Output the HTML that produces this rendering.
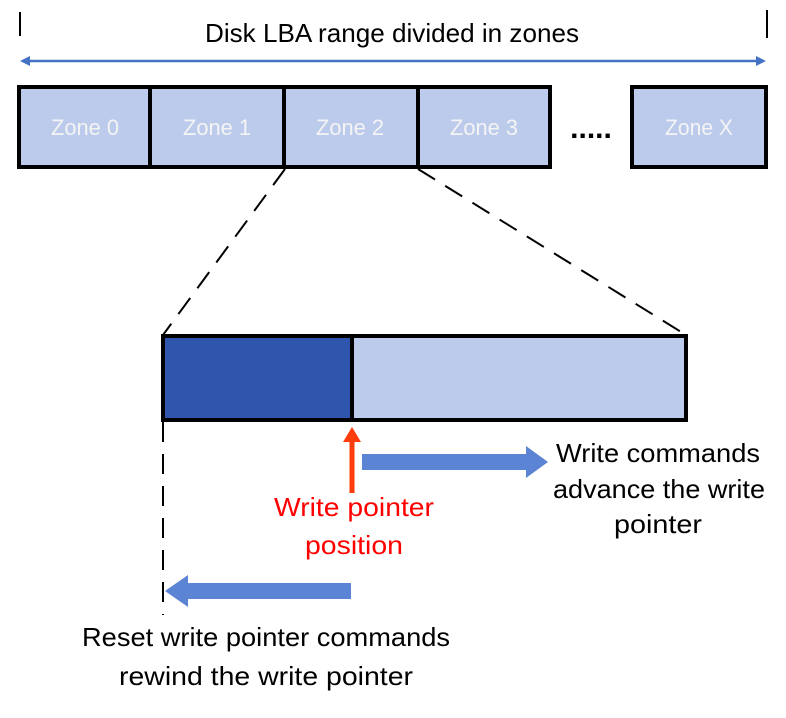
<!DOCTYPE html>
<html><head><style>
body{margin:0;width:786px;height:718px;background:#fff;overflow:hidden}
svg{display:block}
text{font-family:"Liberation Sans",sans-serif}
</style></head><body>
<svg width="786" height="718" viewBox="0 0 786 718">
<line x1="20" y1="12" x2="20" y2="36" stroke="#000" stroke-width="2"/>
<line x1="767" y1="10" x2="767" y2="38" stroke="#000" stroke-width="2"/>
<text x="392" y="42" font-size="26" text-anchor="middle" fill="#000" textLength="374" lengthAdjust="spacingAndGlyphs">Disk LBA range divided in zones</text>
<line x1="28" y1="61" x2="758" y2="61" stroke="#4472c4" stroke-width="2.5"/>
<polygon points="20,61 30,56 30,66" fill="#4472c4"/>
<polygon points="766,61 756,56 756,66" fill="#4472c4"/>
<g stroke="#000" stroke-width="4" fill="#bccbeb">
<rect x="19" y="87" width="131" height="80"/>
<rect x="150" y="87" width="134" height="80"/>
<rect x="284" y="87" width="134" height="80"/>
<rect x="418" y="87" width="132" height="80"/>
<rect x="632" y="87" width="134" height="80"/>
</g>
<g font-size="22" fill="#f4f4f4" text-anchor="middle">
<text x="85" y="135" textLength="68" lengthAdjust="spacingAndGlyphs">Zone 0</text>
<text x="217" y="135" textLength="68" lengthAdjust="spacingAndGlyphs">Zone 1</text>
<text x="350" y="135" textLength="68" lengthAdjust="spacingAndGlyphs">Zone 2</text>
<text x="484" y="135" textLength="68" lengthAdjust="spacingAndGlyphs">Zone 3</text>
<text x="699" y="135" textLength="68" lengthAdjust="spacingAndGlyphs">Zone X</text>
</g>
<text x="591" y="138" font-size="30" font-weight="bold" text-anchor="middle">.....</text>
<g stroke="#000" stroke-width="2" stroke-dasharray="20,12" fill="none">
<line x1="285" y1="169" x2="163" y2="335"/>
<line x1="418" y1="169" x2="686" y2="335"/>
<line x1="163" y1="422" x2="163" y2="615"/>
</g>
<rect x="163" y="336" width="189" height="84" fill="#2f55ad"/>
<rect x="352" y="336" width="334" height="84" fill="#bccbeb"/>
<rect x="163" y="336" width="523" height="84" fill="none" stroke="#000" stroke-width="4"/>
<line x1="352" y1="336" x2="352" y2="420" stroke="#000" stroke-width="4"/>
<rect x="349.5" y="440" width="5" height="53" fill="#ff3d0a"/>
<polygon points="352,427 343,442 361,442" fill="#ff3d0a"/>
<rect x="362" y="454" width="165" height="16" fill="#5b84d4"/>
<polygon points="548,462 526,446 526,478" fill="#5b84d4"/>
<rect x="187" y="583" width="164" height="16" fill="#5b84d4"/>
<polygon points="165,591 188,575 188,607" fill="#5b84d4"/>
<g font-size="26" text-anchor="middle" fill="#000">
<text x="658" y="462" textLength="204" lengthAdjust="spacingAndGlyphs">Write commands</text>
<text x="659" y="498" textLength="212" lengthAdjust="spacingAndGlyphs">advance the write</text>
<text x="658" y="533" textLength="88" lengthAdjust="spacingAndGlyphs">pointer</text>
<text x="266" y="646" textLength="368" lengthAdjust="spacingAndGlyphs">Reset write pointer commands</text>
<text x="266" y="685" textLength="294" lengthAdjust="spacingAndGlyphs">rewind the write pointer</text>
</g>
<g font-size="26" text-anchor="middle" fill="#ff0000">
<text x="354" y="516" textLength="160" lengthAdjust="spacingAndGlyphs">Write pointer</text>
<text x="354" y="554" textLength="98" lengthAdjust="spacingAndGlyphs">position</text>
</g>
</svg>
</body></html>
